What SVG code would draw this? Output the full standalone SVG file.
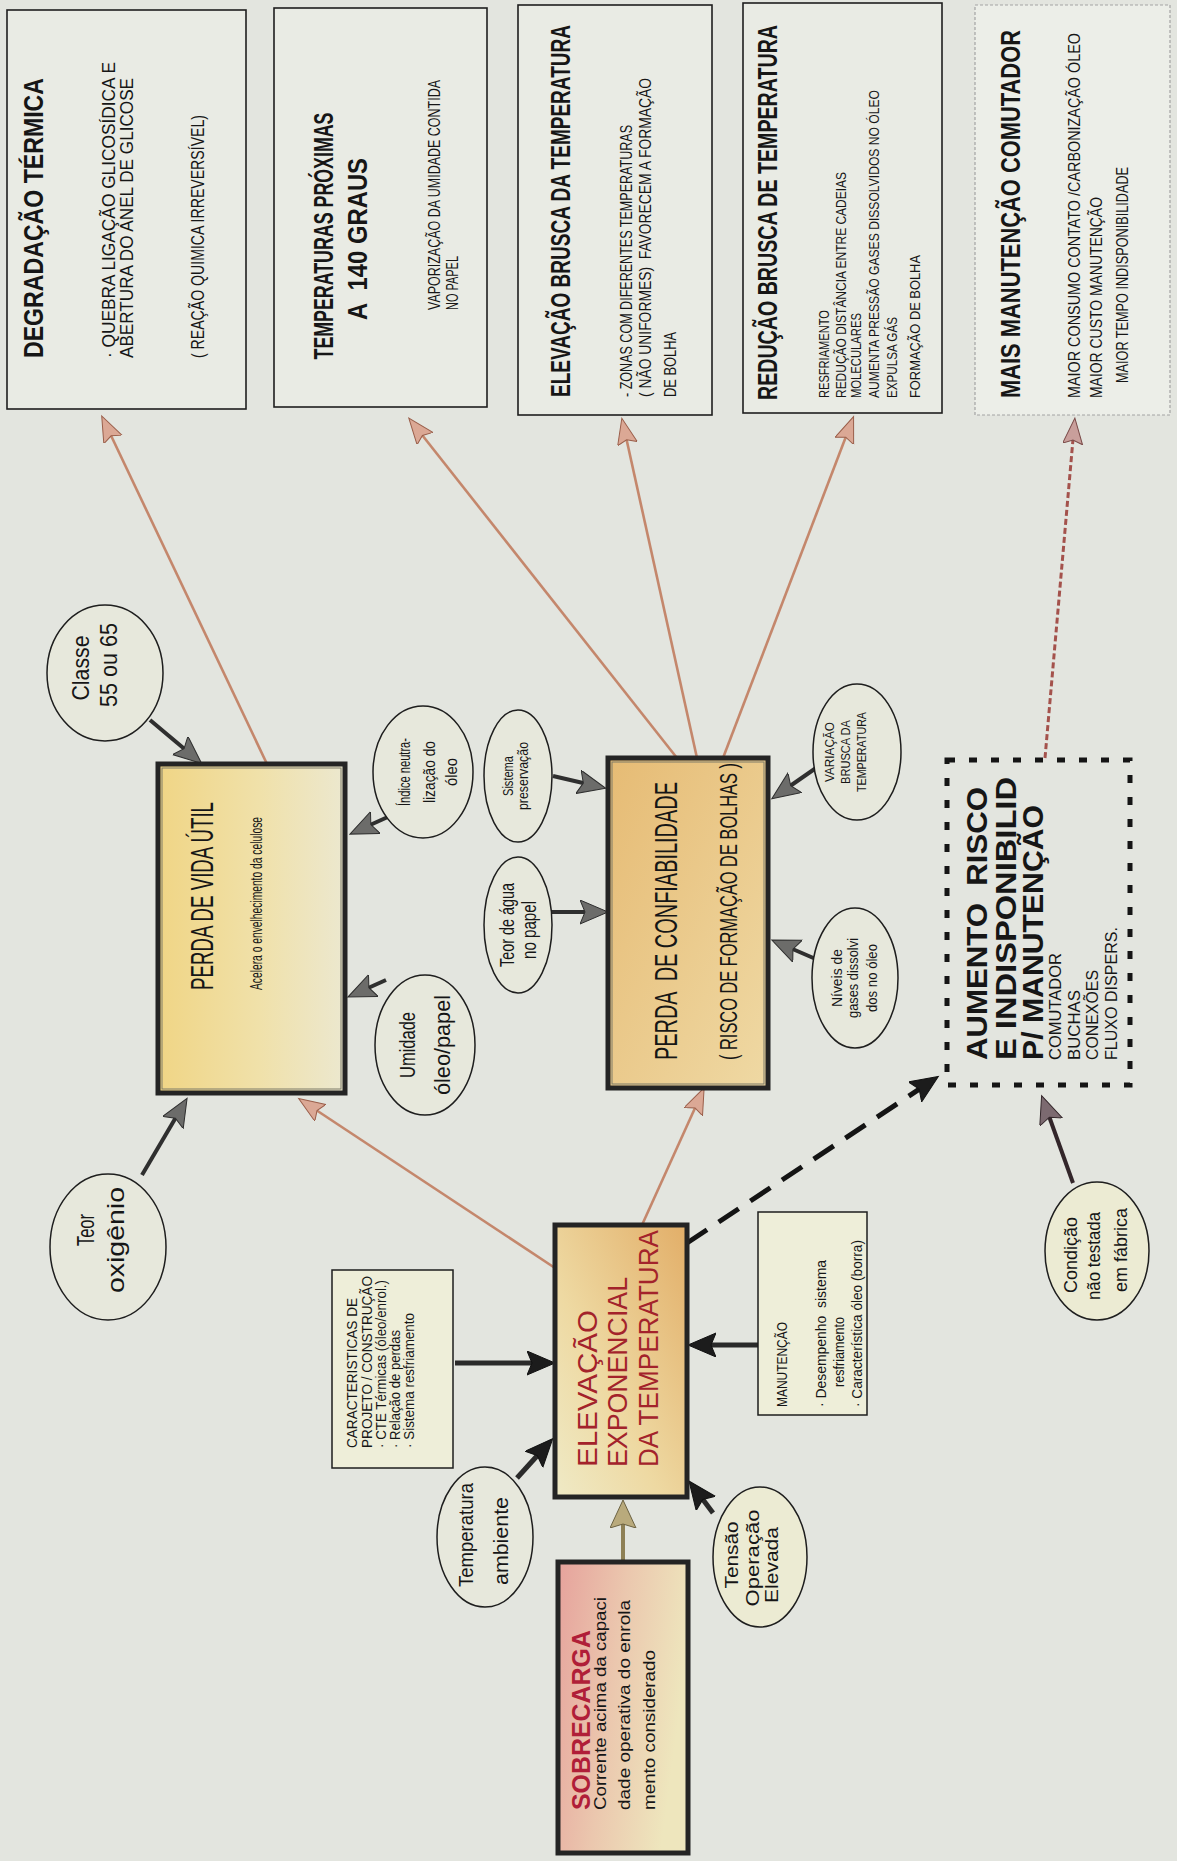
<svg xmlns="http://www.w3.org/2000/svg" width="1177" height="1861" viewBox="0 0 1177 1861">
  <style>
    .t { font-family: "Liberation Sans Narrow", "Liberation Sans", Arial, sans-serif; fill: #161616; }
    .w { font-family: "Liberation Sans", Arial, sans-serif; }
    .b { font-weight: bold; }
    .red { fill: #a3232b; }
    .box { fill: #e9ebe4; stroke: #1e1e1e; stroke-width: 1.6; }
    .soft { fill: #eceee8; stroke: #a3a3a3; stroke-width: 1.2; stroke-dasharray: 3 2; }
    .pale { fill: #eeeed9; stroke: #1e1e1e; stroke-width: 1.5; }
    .heavy { stroke: #242424; stroke-width: 5; }
    .inner { fill: none; stroke: #7d7b68; stroke-width: 1; }
    .ell { fill: #e7e8dc; stroke: #1e1e1e; stroke-width: 1.5; }
    .ellY { fill: #ecebd3; stroke: #1e1e1e; stroke-width: 1.5; }
    .riskbox { fill: none; stroke: #151515; stroke-width: 5; stroke-dasharray: 8 14; }
    .causeG { fill: none; stroke: #2f2f2f; stroke-width: 4; marker-end: url(#headGrey); }
    .causeK { fill: none; stroke: #2a2a2a; stroke-width: 5; marker-end: url(#headBlack); }
    .effect { fill: none; stroke: #c4876c; stroke-width: 2.6; marker-end: url(#headSalmon); }
  </style>
  <defs>
    <linearGradient id="gVida" x1="0" y1="0" x2="1" y2="0">
      <stop offset="0" stop-color="#f0d585"/>
      <stop offset="0.55" stop-color="#f0e1aa"/>
      <stop offset="1" stop-color="#ece8cf"/>
    </linearGradient>
    <linearGradient id="gConf" x1="0" y1="0" x2="1" y2="1">
      <stop offset="0" stop-color="#e6bb74"/>
      <stop offset="1" stop-color="#efd9a4"/>
    </linearGradient>
    <linearGradient id="gElev" x1="1" y1="0" x2="0" y2="1">
      <stop offset="0" stop-color="#e2ae68"/>
      <stop offset="0.6" stop-color="#eed9a2"/>
      <stop offset="1" stop-color="#efeac6"/>
    </linearGradient>
    <linearGradient id="gSobre" x1="0" y1="0" x2="1" y2="0.3">
      <stop offset="0" stop-color="#e6a29c"/>
      <stop offset="0.5" stop-color="#ebc7ae"/>
      <stop offset="1" stop-color="#eee6bd"/>
    </linearGradient>
    <marker id="headGrey" markerUnits="userSpaceOnUse" markerWidth="30" markerHeight="26" refX="18" refY="12" orient="auto">
      <path d="M0,0 L28,12 L0,24 L5,12 z" fill="#6c6c6a" stroke="#2e2e2e" stroke-width="1"/>
    </marker>
    <marker id="headBlack" markerUnits="userSpaceOnUse" markerWidth="30" markerHeight="26" refX="18" refY="12" orient="auto">
      <path d="M0,0 L28,12 L0,24 L5,12 z" fill="#1c1c1c" stroke="#111" stroke-width="1"/>
    </marker>
    <marker id="headSalmon" markerUnits="userSpaceOnUse" markerWidth="28" markerHeight="22" refX="16" refY="10" orient="auto">
      <path d="M0,0 L26,10 L0,20 L4,10 z" fill="#dba895" stroke="#9a5e4a" stroke-width="1"/>
    </marker>
    <marker id="headKhaki" markerUnits="userSpaceOnUse" markerWidth="30" markerHeight="28" refX="16" refY="13" orient="auto">
      <path d="M0,0 L28,13 L0,26 L4,13 z" fill="#b9aa7c" stroke="#6c6242" stroke-width="1"/>
    </marker>
    <marker id="headRose" markerUnits="userSpaceOnUse" markerWidth="28" markerHeight="22" refX="16" refY="10" orient="auto">
      <path d="M0,0 L26,10 L0,20 L4,10 z" fill="#c99f9b" stroke="#7a4a48" stroke-width="1"/>
    </marker>
    <marker id="headDark" markerUnits="userSpaceOnUse" markerWidth="30" markerHeight="26" refX="18" refY="12" orient="auto">
      <path d="M0,0 L28,12 L0,24 L5,12 z" fill="#7c6a70" stroke="#33262a" stroke-width="1"/>
    </marker>
  </defs>

  <!-- paper -->
  <rect x="0" y="0" width="1177" height="1861" fill="#e3e5df"/>

  <!-- connectors -->
  <g id="connectors">
    <!-- causes feeding PERDA DE VIDA ÚTIL -->
    <line class="causeG" x1="150" y1="720" x2="194" y2="757"/>
    <line class="causeG" x1="142" y1="1175" x2="182" y2="1107"/>
    <line class="causeG" x1="390" y1="816" x2="359" y2="830"/>
    <line class="causeG" x1="386" y1="980" x2="357" y2="993"/>
    <!-- causes feeding PERDA DE CONFIABILIDADE -->
    <line class="causeG" x1="553" y1="776" x2="596" y2="786"/>
    <line class="causeG" x1="548" y1="912" x2="598" y2="912"/>
    <line class="causeG" x1="816" y1="768" x2="780" y2="793"/>
    <line class="causeG" x1="818" y1="960" x2="781" y2="944"/>
    <!-- causes feeding ELEVAÇÃO EXPONENCIAL -->
    <line class="causeK" x1="455" y1="1363" x2="545" y2="1363"/>
    <line class="causeK" x1="758" y1="1345" x2="698" y2="1345"/>
    <line class="causeK" x1="517" y1="1478" x2="546" y2="1446"/>
    <line class="causeK" x1="713" y1="1513" x2="695" y2="1489"/>
    <line fill="none" stroke="#8e8055" stroke-width="4" marker-end="url(#headKhaki)" x1="623" y1="1562" x2="623" y2="1512"/>
    <!-- effects of the temperature rise -->
    <line class="effect" x1="555" y1="1268" x2="307" y2="1104"/>
    <line class="effect" x1="642" y1="1225" x2="700" y2="1097"/>
    <line fill="none" stroke="#141414" stroke-width="5" stroke-dasharray="24 14" marker-end="url(#headBlack)" x1="687" y1="1243" x2="930" y2="1082"/>
    <!-- outcome boxes at the top -->
    <line class="effect" x1="267" y1="764" x2="106" y2="425"/>
    <line class="effect" x1="677" y1="758" x2="415" y2="426"/>
    <line class="effect" x1="697" y1="758" x2="624" y2="428"/>
    <line class="effect" x1="723" y1="758" x2="850" y2="426"/>
    <line fill="none" stroke="#a4524c" stroke-width="3" stroke-dasharray="6 3" marker-end="url(#headRose)" x1="1045" y1="758" x2="1074" y2="428"/>
    <!-- untested condition -->
    <line fill="none" stroke="#33262a" stroke-width="4" marker-end="url(#headDark)" x1="1073" y1="1183" x2="1045" y2="1105"/>
  </g>

  <!-- top row: consequences -->
  <g id="n-degradacao">
    <rect class="box" x="7" y="10" width="239" height="399"/>
    <text class="t b" font-size="28" textLength="280" lengthAdjust="spacingAndGlyphs" transform="translate(43,358) rotate(-90)">DEGRADAÇÃO TÉRMICA</text>
    <text class="t" font-size="19" textLength="296" lengthAdjust="spacingAndGlyphs" transform="translate(115,358) rotate(-90)">· QUEBRA LIGAÇÃO GLICOSÍDICA E</text>
    <text class="t" font-size="19" textLength="280" lengthAdjust="spacingAndGlyphs" transform="translate(133,358) rotate(-90)">ABERTURA DO ANEL DE GLICOSE</text>
    <text class="t" font-size="19" textLength="243" lengthAdjust="spacingAndGlyphs" transform="translate(204,358) rotate(-90)">( REAÇÃO QUIMICA IRREVERSÍVEL)</text>
  </g>

  <g id="n-temp140">
    <rect class="box" x="274" y="8" width="213" height="399"/>
    <text class="t b" font-size="22" text-anchor="middle" textLength="247" lengthAdjust="spacingAndGlyphs" transform="translate(333,236) rotate(-90) scale(1,1.273)">TEMPERATURAS PRÓXIMAS</text>
    <text class="t b" font-size="28" text-anchor="middle" textLength="162" lengthAdjust="spacingAndGlyphs" xml:space="preserve" transform="translate(367,239) rotate(-90)">A  140 GRAUS</text>
    <text class="t" font-size="17" textLength="230" lengthAdjust="spacingAndGlyphs" transform="translate(440,310) rotate(-90)">VAPORIZAÇÃO DA UMIDADE CONTIDA</text>
    <text class="t" font-size="16" textLength="54" lengthAdjust="spacingAndGlyphs" transform="translate(458,310) rotate(-90)">NO PAPEL</text>
  </g>

  <g id="n-elevbrusca">
    <rect class="box" x="518" y="5" width="194" height="410"/>
    <text class="t b" font-size="18.5" textLength="372" lengthAdjust="spacingAndGlyphs" transform="translate(570,397) rotate(-90) scale(1,1.514)">ELEVAÇÃO BRUSCA DA TEMPERATURA</text>
    <text class="t" font-size="16" textLength="272" lengthAdjust="spacingAndGlyphs" transform="translate(632,397) rotate(-90)">- ZONAS COM DIFERENTES TEMPERATURAS</text>
    <text class="t" font-size="16" textLength="319" lengthAdjust="spacingAndGlyphs" xml:space="preserve" transform="translate(651,397) rotate(-90)">( NÃO UNIFORMES)  FAVORECEM A FORMAÇÃO</text>
    <text class="t" font-size="16" textLength="65" lengthAdjust="spacingAndGlyphs" transform="translate(676,397) rotate(-90)">DE BOLHA</text>
  </g>

  <g id="n-reducao">
    <rect class="box" x="743" y="3" width="199" height="410" stroke-width="2.5"/>
    <text class="t b" font-size="19.5" textLength="375" lengthAdjust="spacingAndGlyphs" transform="translate(777,400) rotate(-90) scale(1,1.436)">REDUÇÃO BRUSCA DE TEMPERATURA</text>
    <text class="t" font-size="14" textLength="88" lengthAdjust="spacingAndGlyphs" transform="translate(829,398) rotate(-90)">RESFRIAMENTO</text>
    <text class="t" font-size="14" textLength="226" lengthAdjust="spacingAndGlyphs" transform="translate(846,398) rotate(-90)">REDUÇÃO DISTÂNCIA ENTRE CADEIAS</text>
    <text class="t" font-size="14" textLength="85" lengthAdjust="spacingAndGlyphs" transform="translate(861,398) rotate(-90)">MOLECULARES</text>
    <text class="t" font-size="14" textLength="308" lengthAdjust="spacingAndGlyphs" transform="translate(879,398) rotate(-90)">AUMENTA PRESSÃO GASES DISSOLVIDOS NO ÓLEO</text>
    <text class="t" font-size="14" textLength="81" lengthAdjust="spacingAndGlyphs" transform="translate(897,398) rotate(-90)">EXPULSA GÁS</text>
    <text class="t" font-size="14" textLength="143" lengthAdjust="spacingAndGlyphs" transform="translate(920,398) rotate(-90)">FORMAÇÃO DE BOLHA</text>
  </g>

  <g id="n-maismanut">
    <rect class="soft" x="975" y="5" width="195" height="410"/>
    <text class="t b" font-size="21.5" textLength="368" lengthAdjust="spacingAndGlyphs" transform="translate(1020,398) rotate(-90) scale(1,1.302)">MAIS MANUTENÇÃO COMUTADOR</text>
    <text class="t" font-size="14" textLength="365" lengthAdjust="spacingAndGlyphs" transform="translate(1080,398) rotate(-90) scale(1,1.214)">MAIOR CONSUMO CONTATO /CARBONIZAÇÃO ÓLEO</text>
    <text class="t" font-size="17" textLength="201" lengthAdjust="spacingAndGlyphs" transform="translate(1102,398) rotate(-90)">MAIOR CUSTO MANUTENÇÃO</text>
    <text class="t" font-size="17" textLength="216" lengthAdjust="spacingAndGlyphs" transform="translate(1128,383) rotate(-90)">MAIOR TEMPO INDISPONIBILIDADE</text>
  </g>

  <!-- middle row: losses -->
  <g id="n-vida">
    <rect class="heavy" x="158" y="764" width="187" height="329" fill="url(#gVida)"/>
    <rect class="inner" x="162" y="768" width="179" height="321"/>
    <text class="t" font-size="18" textLength="188" lengthAdjust="spacingAndGlyphs" transform="translate(213,990) rotate(-90) scale(1,1.78)">PERDA DE VIDA ÚTIL</text>
    <text class="t" font-size="10" textLength="173" lengthAdjust="spacingAndGlyphs" transform="translate(262,990) rotate(-90) scale(1,1.7)">Acelera o envelhecimento da celulose</text>
  </g>

  <g id="n-confiab">
    <rect class="heavy" x="608" y="758" width="160" height="330" fill="url(#gConf)"/>
    <rect class="inner" x="612" y="762" width="152" height="322"/>
    <text class="t" font-size="19.6" textLength="278" lengthAdjust="spacingAndGlyphs" xml:space="preserve" transform="translate(677,1060) rotate(-90) scale(1,1.63)">PERDA  DE CONFIABILIDADE</text>
    <text class="t" font-size="15.5" textLength="297" lengthAdjust="spacingAndGlyphs" transform="translate(737,1060) rotate(-90) scale(1,1.55)">( RISCO DE FORMAÇÃO DE BOLHAS )</text>
  </g>

  <g id="n-aumento">
    <rect class="riskbox" x="947" y="760" width="183" height="325"/>
    <text class="t w b" font-size="30" textLength="273" lengthAdjust="spacingAndGlyphs" xml:space="preserve" transform="translate(987,1060) rotate(-90)">AUMENTO  RISCO</text>
    <text class="t w b" font-size="30" textLength="283" lengthAdjust="spacingAndGlyphs" transform="translate(1016,1060) rotate(-90)">E INDISPONIBILID</text>
    <text class="t w b" font-size="30" textLength="255" lengthAdjust="spacingAndGlyphs" transform="translate(1043,1060) rotate(-90)">P/ MANUTENÇÃO</text>
    <text class="t w" font-size="17" textLength="107" lengthAdjust="spacingAndGlyphs" transform="translate(1061,1060) rotate(-90)">COMUTADOR</text>
    <text class="t w" font-size="17" textLength="70" lengthAdjust="spacingAndGlyphs" transform="translate(1080,1060) rotate(-90)">BUCHAS</text>
    <text class="t w" font-size="17" textLength="90" lengthAdjust="spacingAndGlyphs" transform="translate(1098,1060) rotate(-90)">CONEXÕES</text>
    <text class="t w" font-size="17" textLength="133" lengthAdjust="spacingAndGlyphs" transform="translate(1117,1060) rotate(-90)">FLUXO DISPERS.</text>
  </g>

  <!-- influencing factors (ellipses) -->
  <g id="n-classe">
    <ellipse class="ell" cx="105" cy="673" rx="58" ry="68"/>
    <text class="t" font-size="24" text-anchor="middle" textLength="65" lengthAdjust="spacingAndGlyphs" transform="translate(89,668) rotate(-90)">Classe</text>
    <text class="t" font-size="24" text-anchor="middle" textLength="84" lengthAdjust="spacingAndGlyphs" transform="translate(117,665) rotate(-90)">55 ou 65</text>
  </g>

  <g id="n-oxigenio">
    <ellipse class="ell" cx="108" cy="1247" rx="58" ry="73"/>
    <text class="t" font-size="24" text-anchor="middle" textLength="32" lengthAdjust="spacingAndGlyphs" transform="translate(94,1230) rotate(-90)">Teor</text>
    <text class="t" font-size="24" text-anchor="middle" textLength="106" lengthAdjust="spacingAndGlyphs" transform="translate(124,1240) rotate(-90)">oxigênio</text>
  </g>

  <g id="n-indice">
    <ellipse class="ell" cx="423" cy="772" rx="50" ry="66"/>
    <text class="t" font-size="16" text-anchor="middle" textLength="68" lengthAdjust="spacingAndGlyphs" transform="translate(410,772) rotate(-90)">Índice neutra-</text>
    <text class="t" font-size="16" text-anchor="middle" textLength="62" lengthAdjust="spacingAndGlyphs" transform="translate(435,772) rotate(-90)">lização do</text>
    <text class="t" font-size="16" text-anchor="middle" textLength="28" lengthAdjust="spacingAndGlyphs" transform="translate(457,772) rotate(-90)">óleo</text>
  </g>

  <g id="n-umidade">
    <ellipse class="ell" cx="425" cy="1045" rx="50" ry="70"/>
    <text class="t" font-size="22" text-anchor="middle" textLength="66" lengthAdjust="spacingAndGlyphs" transform="translate(415,1045) rotate(-90)">Umidade</text>
    <text class="t" font-size="22" text-anchor="middle" textLength="100" lengthAdjust="spacingAndGlyphs" transform="translate(450,1045) rotate(-90)">óleo/papel</text>
  </g>

  <g id="n-preservacao">
    <ellipse class="ell" cx="518" cy="776" rx="34" ry="66"/>
    <text class="t" font-size="15" text-anchor="middle" textLength="40" lengthAdjust="spacingAndGlyphs" transform="translate(513,776) rotate(-90)">Sistema</text>
    <text class="t" font-size="15" text-anchor="middle" textLength="68" lengthAdjust="spacingAndGlyphs" transform="translate(528,776) rotate(-90)">preservação</text>
  </g>

  <g id="n-agua">
    <ellipse class="ell" cx="518" cy="925" rx="34" ry="68"/>
    <text class="t" font-size="20" text-anchor="middle" textLength="84" lengthAdjust="spacingAndGlyphs" transform="translate(514,925) rotate(-90)">Teor de água</text>
    <text class="t" font-size="20" text-anchor="middle" textLength="58" lengthAdjust="spacingAndGlyphs" transform="translate(536,930) rotate(-90)">no papel</text>
  </g>

  <g id="n-variacao">
    <ellipse class="ell" cx="857" cy="752" rx="44" ry="68"/>
    <text class="t" font-size="13" text-anchor="middle" textLength="60" lengthAdjust="spacingAndGlyphs" transform="translate(834,752) rotate(-90)">VARIAÇÃO</text>
    <text class="t" font-size="13" text-anchor="middle" textLength="64" lengthAdjust="spacingAndGlyphs" transform="translate(850,752) rotate(-90)">BRUSCA DA</text>
    <text class="t" font-size="13" text-anchor="middle" textLength="80" lengthAdjust="spacingAndGlyphs" transform="translate(866,752) rotate(-90)">TEMPERATURA</text>
  </g>

  <g id="n-gases">
    <ellipse class="ell" cx="855" cy="978" rx="43" ry="70"/>
    <text class="t" font-size="15" text-anchor="middle" textLength="58" lengthAdjust="spacingAndGlyphs" transform="translate(842,978) rotate(-90)">Níveis de</text>
    <text class="t" font-size="15" text-anchor="middle" textLength="80" lengthAdjust="spacingAndGlyphs" transform="translate(858,978) rotate(-90)">gases dissolvi</text>
    <text class="t" font-size="15" text-anchor="middle" textLength="68" lengthAdjust="spacingAndGlyphs" transform="translate(877,978) rotate(-90)">dos no óleo</text>
  </g>

  <!-- bottom: drivers of the temperature rise -->
  <g id="n-caract">
    <rect class="pale" x="332" y="1270" width="121" height="198"/>
    <text class="t" font-size="14" textLength="150" lengthAdjust="spacingAndGlyphs" transform="translate(357,1448) rotate(-90)">CARACTERISTICAS DE</text>
    <text class="t" font-size="14" textLength="172" lengthAdjust="spacingAndGlyphs" transform="translate(372,1448) rotate(-90)">PROJETO / CONSTRUÇÃO</text>
    <text class="t" font-size="14" textLength="168" lengthAdjust="spacingAndGlyphs" transform="translate(386,1448) rotate(-90)">· CTE Térmicas (óleo/enrol.)</text>
    <text class="t" font-size="14" textLength="118" lengthAdjust="spacingAndGlyphs" transform="translate(400,1448) rotate(-90)">· Relação de perdas</text>
    <text class="t" font-size="14" textLength="135" lengthAdjust="spacingAndGlyphs" transform="translate(414,1448) rotate(-90)">· Sistema resfriamento</text>
  </g>

  <g id="n-elevexp">
    <rect class="heavy" x="555" y="1225" width="132" height="272" fill="url(#gElev)"/>
    <text class="t w red" font-size="27" textLength="157" lengthAdjust="spacingAndGlyphs" transform="translate(597,1467) rotate(-90)">ELEVAÇÃO</text>
    <text class="t w red" font-size="27" textLength="190" lengthAdjust="spacingAndGlyphs" transform="translate(627,1467) rotate(-90)">EXPONENCIAL</text>
    <text class="t w red" font-size="27" textLength="237" lengthAdjust="spacingAndGlyphs" transform="translate(658,1467) rotate(-90)">DA TEMPERATURA</text>
  </g>

  <g id="n-manut">
    <rect class="pale" x="758" y="1212" width="109" height="203"/>
    <text class="t" font-size="14" textLength="85" lengthAdjust="spacingAndGlyphs" transform="translate(787,1407) rotate(-90)">MANUTENÇÃO</text>
    <text class="t" font-size="14" textLength="147" lengthAdjust="spacingAndGlyphs" xml:space="preserve" transform="translate(826,1407) rotate(-90)">· Desempenho  sistema</text>
    <text class="t" font-size="14" textLength="70" lengthAdjust="spacingAndGlyphs" transform="translate(844,1387) rotate(-90)">resfriamento</text>
    <text class="t" font-size="14" textLength="167" lengthAdjust="spacingAndGlyphs" transform="translate(862,1407) rotate(-90)">· Característica óleo (borra)</text>
  </g>

  <g id="n-ambiente">
    <ellipse class="ell" cx="485" cy="1537" rx="48" ry="70"/>
    <text class="t" font-size="20" text-anchor="middle" textLength="104" lengthAdjust="spacingAndGlyphs" transform="translate(473,1535) rotate(-90)">Temperatura</text>
    <text class="t" font-size="20" text-anchor="middle" textLength="88" lengthAdjust="spacingAndGlyphs" transform="translate(508,1541) rotate(-90)">ambiente</text>
  </g>

  <g id="n-tensao">
    <ellipse class="ellY" cx="760" cy="1557" rx="47" ry="70"/>
    <text class="t w" font-size="18" text-anchor="middle" textLength="67" lengthAdjust="spacingAndGlyphs" transform="translate(738,1555) rotate(-90)">Tensão</text>
    <text class="t w" font-size="18" text-anchor="middle" textLength="97" lengthAdjust="spacingAndGlyphs" transform="translate(759,1558) rotate(-90)">Operação</text>
    <text class="t w" font-size="18" text-anchor="middle" textLength="76" lengthAdjust="spacingAndGlyphs" transform="translate(778,1565) rotate(-90)">Elevada</text>
  </g>

  <g id="n-condicao">
    <ellipse class="ellY" cx="1097" cy="1251" rx="52" ry="69"/>
    <text class="t" font-size="18" text-anchor="middle" textLength="76" lengthAdjust="spacingAndGlyphs" transform="translate(1077,1255) rotate(-90)">Condição</text>
    <text class="t" font-size="18" text-anchor="middle" textLength="88" lengthAdjust="spacingAndGlyphs" transform="translate(1100,1256) rotate(-90)">não testada</text>
    <text class="t" font-size="18" text-anchor="middle" textLength="84" lengthAdjust="spacingAndGlyphs" transform="translate(1127,1250) rotate(-90)">em fábrica</text>
  </g>

  <g id="n-sobrecarga">
    <rect class="heavy" x="558" y="1562" width="130" height="291" fill="url(#gSobre)"/>
    <text class="t w b" font-size="26" textLength="180" lengthAdjust="spacingAndGlyphs" style="fill:#b01e38" transform="translate(590,1810) rotate(-90)">SOBRECARGA</text>
    <text class="t" font-size="17" textLength="213" lengthAdjust="spacingAndGlyphs" transform="translate(606,1810) rotate(-90)">Corrente acima da capaci</text>
    <text class="t" font-size="17" textLength="210" lengthAdjust="spacingAndGlyphs" transform="translate(630,1810) rotate(-90)">dade operativa do enrola</text>
    <text class="t" font-size="17" textLength="160" lengthAdjust="spacingAndGlyphs" transform="translate(655,1810) rotate(-90)">mento considerado</text>
  </g>
</svg>
